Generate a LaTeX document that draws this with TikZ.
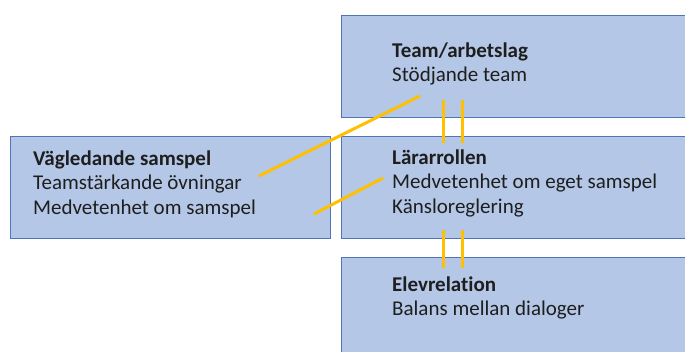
\documentclass[tikz,border=0pt]{standalone}
\usepackage{fontspec}
\setmainfont{Carlito}[Ligatures=NoCommon]
\definecolor{boxfill}{HTML}{B4C7E7}
\definecolor{boxline}{HTML}{4F74B8}
\definecolor{linkyel}{HTML}{FFC000}
\definecolor{txt}{HTML}{1E1E1E}
\newcommand{\linesof}[1]{\vtop{\fontsize{21}{24.5}\selectfont\baselineskip=24.5pt #1}}
\begin{document}
\begin{tikzpicture}[x=1pt,y=-1pt,
  panel/.style={draw=boxline,line width=0.9pt,fill=boxfill},
  label/.style={anchor=base west,inner sep=0pt,text=txt},
  link/.style={draw=linkyel,line width=3pt}]
\useasboundingbox (0,0) rectangle (685,351);
\fill[white] (0,0) rectangle (685,351);
\path[panel] (341,15) rectangle (692,117);
\node[label] (team) at (392,57) {\linesof{\hbox{\textbf{Team/arbetslag}}\hbox{Stödjande team}}};
\path[panel] (341,136) rectangle (692,238);
\node[label] (larar) at (392,164) {\linesof{\hbox{\textbf{Lärarrollen}}\hbox{Medvetenhet om eget samspel}\hbox{Känsloreglering}}};
\path[panel] (341,257) rectangle (692,360);
\node[label] (elev) at (392,291) {\linesof{\hbox{\textbf{Elevrelation}}\hbox{Balans mellan dialoger}}};
\path[panel] (10,136) rectangle (330,238);
\node[label] (vag) at (33,165) {\linesof{\hbox{\textbf{Vägledande samspel}}\hbox{Teamstärkande övningar}\hbox{Medvetenhet om samspel}}};
\coordinate (a1) at (259,176); \coordinate (a2) at (420,96);
\coordinate (b1) at (314,214); \coordinate (b2) at (383,178);
\coordinate (c1) at (443,100); \coordinate (c2) at (443,143);
\coordinate (d1) at (462,100); \coordinate (d2) at (462,143);
\coordinate (e1) at (443,230); \coordinate (e2) at (443,268);
\coordinate (f1) at (462,230); \coordinate (f2) at (462,268);
\draw[link] (a1) -- (a2);
\draw[link] (b1) -- (b2);
\draw[link] (c1) -- (c2);
\draw[link] (d1) -- (d2);
\draw[link] (e1) -- (e2);
\draw[link] (f1) -- (f2);
\end{tikzpicture}
\end{document}
